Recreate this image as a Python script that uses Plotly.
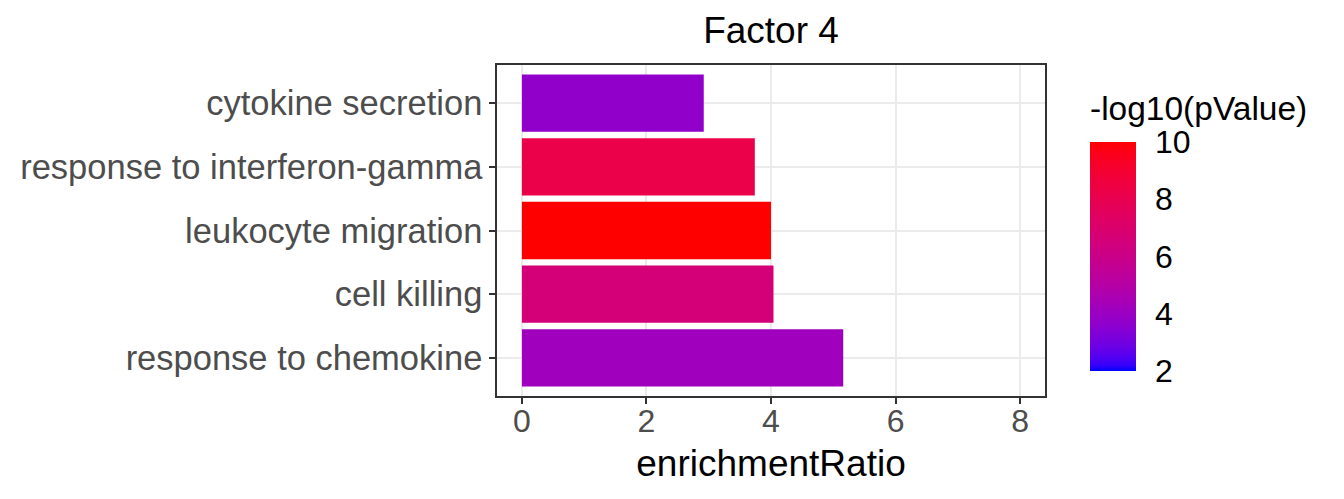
import plotly.graph_objects as go

# ---- data (bottom-to-top order as displayed) ----
categories = [
    "response to chemokine",
    "cell killing",
    "leukocyte migration",
    "response to interferon-gamma",
    "cytokine secretion",
]
enrichment_ratio = [5.16, 4.04, 4.00, 3.74, 2.92]
neg_log10_p = [4.2, 6.6, 10.0, 8.2, 3.7]
x_ticks = [0, 2, 4, 6, 8]
cbar_ticks = [2, 4, 6, 8, 10]


# ---- blue->red gradient interpolated in CIELAB (like ggplot2) ----
def srgb_to_lab(rgb):
    def lin(c):
        c = c / 255.0
        return c / 12.92 if c <= 0.04045 else ((c + 0.055) / 1.055) ** 2.4
    r, g, b = (lin(c) for c in rgb)
    X = 0.4124 * r + 0.3576 * g + 0.1805 * b
    Y = 0.2126 * r + 0.7152 * g + 0.0722 * b
    Z = 0.0193 * r + 0.1192 * g + 0.9505 * b
    Xn, Yn, Zn = 0.95047, 1.0, 1.08883
    def f(t):
        return t ** (1 / 3) if t > 216 / 24389 else (24389 / 27 * t + 16) / 116
    fx, fy, fz = f(X / Xn), f(Y / Yn), f(Z / Zn)
    return (116 * fy - 16, 500 * (fx - fy), 200 * (fy - fz))


def lab_to_srgb(lab):
    L, a, b = lab
    fy = (L + 16) / 116
    fx = fy + a / 500
    fz = fy - b / 200
    def finv(t):
        return t ** 3 if t ** 3 > 216 / 24389 else (116 * t - 16) / (24389 / 27)
    X, Y, Z = 0.95047 * finv(fx), finv(fy), 1.08883 * finv(fz)
    r = 3.2406 * X - 1.5372 * Y - 0.4986 * Z
    g = -0.9689 * X + 1.8758 * Y + 0.0415 * Z
    bb = 0.0557 * X - 0.2040 * Y + 1.0570 * Z
    def gam(c):
        c = min(max(c, 0.0), 1.0)
        return 12.92 * c if c <= 0.0031308 else 1.055 * c ** (1 / 2.4) - 0.055
    return tuple(int(round(gam(c) * 255)) for c in (r, g, bb))


low = srgb_to_lab((0, 0, 255))
high = srgb_to_lab((255, 0, 0))
n = 40
colorscale = []
for i in range(n + 1):
    t = i / n
    lab = tuple(low[k] + (high[k] - low[k]) * t for k in range(3))
    r, g, b = lab_to_srgb(lab)
    colorscale.append([t, f"rgb({r},{g},{b})"])

FONT = "Liberation Sans, Arial, Helvetica, sans-serif"

# target plot area in page pixels: left 494, right 1045, top 65, bottom 396
# (page body adds an ~8px offset, compensated in the margins)
PL, PR, PT, PB = 494, 1045, 65, 396
PW, PH = PR - PL, PB - PT
OFF = 8


def px_x(x):
    return (x - PL) / PW


def px_y(y):
    return (PB - y) / PH


fig = go.Figure(
    go.Bar(
        x=enrichment_ratio,
        y=categories,
        orientation="h",
        width=0.9,
        marker=dict(
            color=neg_log10_p,
            colorscale=colorscale,
            cmin=2,
            cmax=10,
            line=dict(width=0),
            showscale=True,
            colorbar=dict(
                x=px_x(1090),
                xanchor="left",
                y=px_y(142),
                yanchor="top",
                lenmode="pixels",
                len=229,
                thickness=46,
                outlinewidth=0,
                tickvals=cbar_ticks,
                ticks="outside",
                ticklen=13,
                tickcolor="rgba(255,255,255,0)",
                tickwidth=1,
                tickfont=dict(family=FONT, size=32, color="black"),
                xpad=0,
                ypad=0,
            ),
        ),
        hoverinfo="x+y",
    )
)

fig.update_layout(
    width=1344,
    height=499,
    margin=dict(l=PL - OFF, r=1344 - (PR - OFF), t=PT - OFF, b=499 - (PB - OFF)),
    paper_bgcolor="white",
    plot_bgcolor="white",
    font=dict(family=FONT),
    showlegend=False,
    title=dict(
        text="Factor 4",
        x=0.5,
        xref="paper",
        xanchor="center",
        y=1 - (30 - OFF) / 499,
        yref="container",
        yanchor="middle",
        font=dict(family=FONT, size=37, color="black"),
    ),
    xaxis=dict(
        range=[-0.4, 8.4],
        tickvals=x_ticks,
        showgrid=True,
        gridcolor="#EBEBEB",
        gridwidth=2,
        zeroline=False,
        showline=True,
        linecolor="#333333",
        linewidth=1.5,
        mirror=True,
        ticks="outside",
        ticklen=6,
        tickwidth=2,
        tickcolor="#333333",
        ticklabelstandoff=-10,
        tickfont=dict(family=FONT, size=32, color="#4D4D4D"),
        title=dict(
            text="enrichmentRatio",
            font=dict(family=FONT, size=37, color="black"),
            standoff=12,
        ),
    ),
    yaxis=dict(
        type="category",
        categoryorder="array",
        categoryarray=categories,
        range=[-0.6, 4.6],
        showgrid=True,
        gridcolor="#EBEBEB",
        gridwidth=2,
        zeroline=False,
        showline=True,
        linecolor="#333333",
        linewidth=1.5,
        mirror=True,
        ticks="outside",
        ticklen=6,
        tickwidth=2,
        tickcolor="#333333",
        tickfont=dict(family=FONT, size=34.5, color="#4D4D4D"),
    ),
    annotations=[
        dict(
            text="-log10(pValue)",
            xref="paper",
            yref="paper",
            x=px_x(1088),
            y=px_y(108),
            xanchor="left",
            yanchor="middle",
            showarrow=False,
            font=dict(family=FONT, size=33.5, color="black"),
        )
    ],
)

fig.write_html("out.html")
